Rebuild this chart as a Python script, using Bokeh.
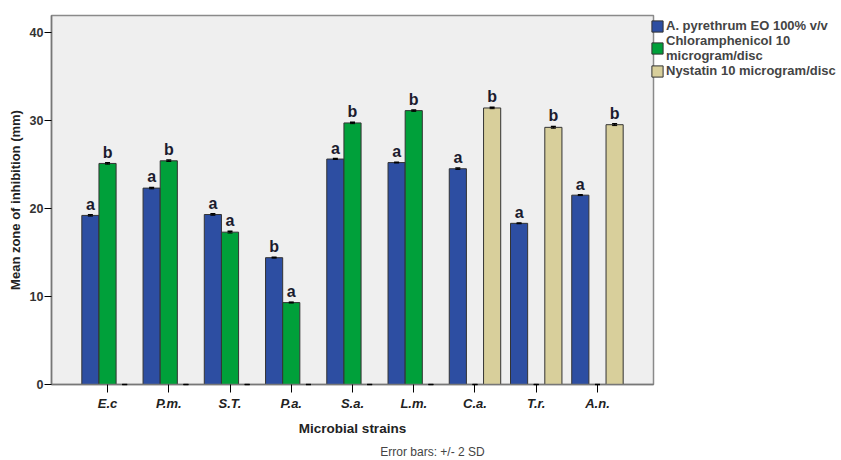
import math
from bokeh.plotting import figure
from bokeh.models import (ColumnDataSource, FixedTicker, Legend, LegendItem, Whisker, Range1d)
from bokeh.core.properties import value
from bokeh.embed import file_html
from bokeh.resources import INLINE

categories = ["E.c", "P.m.", "S.T.", "P.a.", "S.a.", "L.m.", "C.a.", "T.r.", "A.n."]
pyrethrum = [19.2, 22.3, 19.3, 14.4, 25.6, 25.2, 24.5, 18.3, 21.5]
pyrethrum_sd = [0.08, 0.08, 0.08, 0.05, 0.05, 0.05, 0.08, 0.05, 0.05]
chloram = [25.1, 25.4, 17.3, 9.3, 29.7, 31.1, 0.0, 0.0, 0.0]
chloram_sd = [0.08, 0.08, 0.1, 0.05, 0.08, 0.08, 0.0, 0.0, 0.0]
nystatin = [0.0, 0.0, 0.0, 0.0, 0.0, 0.0, 31.4, 29.2, 29.5]
nystatin_sd = [0.0, 0.0, 0.0, 0.0, 0.0, 0.0, 0.08, 0.1, 0.1]
letters_pyr = ["a", "a", "a", "b", "a", "a", "a", "a", "a"]
letters_chl = ["b", "b", "a", "a", "b", "b", "", "", ""]
letters_nys = ["", "", "", "", "", "", "b", "b", "b"]
series_names = ["A. pyrethrum EO 100% v/v", "Chloramphenicol 10\nmicrogram/disc", "Nystatin 10 microgram/disc"]
y_ticks = [0, 10, 20, 30, 40]
x_title = "Microbial strains"
y_title = "Mean zone of inhibition (mm)"
note_text = "Error bars: +/- 2 SD"

colors = ["#2D4EA2", "#00A03A", "#D8CF9B"]
FONT = "Liberation Sans"

# plot panel extent (data units) and its pixel placement inside the figure
x_lo, x_hi, y_max = 0.085, 9.915, 41.9
W, H = 841, 460
panel_left, panel_right, panel_top, panel_bottom = 51, 653, 15, 384
sx = (panel_right - panel_left) / (x_hi - x_lo)
sy = (panel_bottom - panel_top) / y_max
x_start = x_lo - panel_left / sx
x_end = x_hi + (W - panel_right) / sx
y_start = -(H - panel_bottom) / sy
y_end = y_max + panel_top / sy

p = figure(width=W, height=H, output_backend="svg", toolbar_location=None,
           x_range=Range1d(x_start, x_end), y_range=Range1d(y_start, y_end))
p.min_border_left = 0
p.min_border_top = 0
p.min_border_bottom = 0
p.min_border_right = 0
p.background_fill_color = "white"
p.border_fill_color = "white"
p.outline_line_color = None
p.xgrid.visible = False
p.ygrid.visible = False

p.quad(left=x_lo, right=x_hi, bottom=0, top=y_max, fill_color="#EFEFEF",
       line_color="#8A8A8A", line_width=1.5)

xs = list(range(1, len(categories) + 1))
off = 0.28
series = [(pyrethrum, pyrethrum_sd, letters_pyr, -off), (chloram, chloram_sd, letters_chl, 0.0),
          (nystatin, nystatin_sd, letters_nys, off)]
renderers = []
for i, (vals, sds, lets, dx) in enumerate(series):
    src = ColumnDataSource(dict(x=[x + dx for x in xs], top=vals,
                                up=[v + s for v, s in zip(vals, sds)],
                                lo=[v - s for v, s in zip(vals, sds)],
                                lab=lets))
    r = p.vbar(x="x", top="top", bottom=0, width=off, source=src, fill_color=colors[i],
               line_color="#333333", line_width=1)
    renderers.append(r)
    w = Whisker(base="x", upper="up", lower="lo", source=src, line_color="black", line_width=1,
                level="overlay")
    w.upper_head.size = 5
    w.lower_head.size = 5
    w.upper_head.line_color = "black"
    w.lower_head.line_color = "black"
    w.upper_head.line_width = 1.5
    p.add_layout(w)
    p.text(x="x", y="up", text="lab", source=src, text_align="center", text_baseline="bottom",
           y_offset=-2, text_font=value(FONT), text_font_style="bold", text_font_size="16px",
           text_color="#1B1B2E")

legend = Legend(items=[LegendItem(label=series_names[i], renderers=[renderers[i]]) for i in range(3)],
                location=(650, 382), label_text_font=FONT, label_text_font_style="bold",
                label_text_font_size="13px", label_text_line_height=1.15,
                glyph_width=14, glyph_height=14, spacing=0,
                padding=0, margin=0, label_standoff=2, border_line_color=None,
                background_fill_alpha=0, label_height=14)
p.add_layout(legend)

p.xaxis.fixed_location = 0
p.xaxis.ticker = FixedTicker(ticks=xs)
p.xaxis.bounds = (x_lo, x_hi)
p.xaxis.major_label_overrides = {x: c for x, c in zip(xs, categories)}
p.xaxis.major_label_text_font = FONT
p.xaxis.major_label_text_font_style = "bold italic"
p.xaxis.major_label_text_font_size = "13px"
p.xaxis.major_label_text_color = "#222222"
p.xaxis.major_label_standoff = 3
p.xaxis.major_tick_out = 8
p.xaxis.major_tick_in = 0
p.xaxis.minor_tick_line_color = None
p.xaxis.axis_line_color = "#777777"
p.xaxis.axis_line_width = 1.5

p.yaxis.fixed_location = x_lo
p.yaxis.ticker = FixedTicker(ticks=y_ticks)
p.yaxis.bounds = (0, y_max)
p.yaxis.major_label_text_font = FONT
p.yaxis.major_label_text_font_style = "bold"
p.yaxis.major_label_text_font_size = "12.5px"
p.yaxis.major_label_text_color = "#333333"
p.yaxis.major_tick_out = 7
p.yaxis.major_tick_in = 0
p.yaxis.major_label_standoff = 1
p.yaxis.minor_tick_line_color = None
p.yaxis.axis_line_color = "#777777"
p.yaxis.axis_line_width = 1.5

# axis titles and note, placed by pixel distance from the panel edges
p.text(x=[(x_lo + x_hi) / 2], y=[-44 / sy], text=[x_title], text_align="center",
       text_baseline="middle", text_font=value(FONT), text_font_style="bold",
       text_font_size="13.5px", text_color="#222222")
p.text(x=[x_lo - 36 / sx], y=[y_max / 2], text=[y_title], angle=math.pi / 2,
       text_align="center", text_baseline="middle", text_font=value(FONT),
       text_font_style="bold", text_font_size="13px", text_color="#222222")
p.text(x=[x_lo + 381 / sx], y=[-67 / sy], text=[note_text], text_align="center",
       text_baseline="middle", text_font=value(FONT), text_font_size="12px",
       text_color="#444444")

open("out.html", "w").write(file_html(p, INLINE))
